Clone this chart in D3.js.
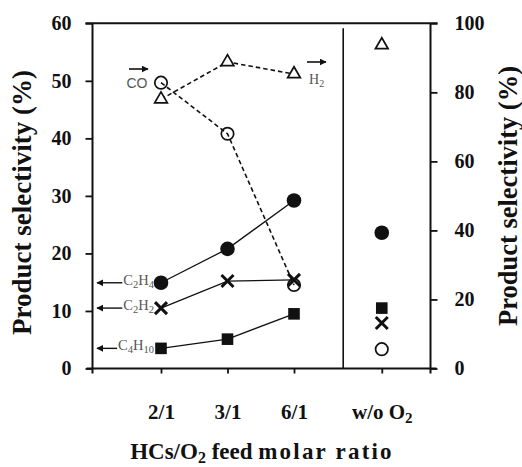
<!DOCTYPE html>
<html>
<head>
<meta charset="utf-8">
<script src="https://cdn.jsdelivr.net/npm/d3@7"></script>
<style>
  html, body { margin: 0; padding: 0; background: #ffffff; }
  svg { display: block; }
  text { font-family: "Times New Roman", "Liberation Serif", Tinos, Times, serif; }
</style>
</head>
<body>
<svg id="chart" width="522" height="467"></svg>
<script>
// Feed ratios (the last one is the run without oxygen)
const categories = ["2/1", "3/1", "6/1", "w/o O2"];

// Hydrocarbon selectivities, left axis (%)
const c2h4 = [14.9, 20.8, 29.2, 23.6];
const c2h2 = [10.5, 15.2, 15.4, 7.9];
const c4h10 = [3.5, 5.1, 9.5, 10.5];

// CO and H2 selectivities, right axis (%)
const co = [82.8, 68.0, 24.2, 5.6];
const h2 = [78.0, 88.8, 85.3, 93.7];

const leftTicks = [0, 10, 20, 30, 40, 50, 60];
const rightTicks = [0, 20, 40, 60, 80, 100];

const serif = "'Times New Roman', 'Liberation Serif', Tinos, Times, serif";
const svg = d3.select("#chart");
const ink = "#111";
const grey = "#555";

// Horizontal slot of each feed ratio; the oxygen-free run sits in its own panel
const slots = [1, 2, 3, 4.32];
const panelSplit = 3.74;

const x = d3.scaleLinear().domain([1, 3]).range([161, 294]);
const yL = d3.scaleLinear().domain([0, 60]).range([368.5, 23.3]);
const yR = d3.scaleLinear().domain([0, 100]).range([368.5, 23.3]);

const xLeft = 92.5, xRight = 430.5;
const yTop = yL(60), yBottom = yL(0);

// Frame
const frame = svg.append("g").attr("stroke", ink).attr("stroke-width", 2).attr("fill", "none");
frame.append("line").attr("x1", xLeft).attr("x2", xLeft).attr("y1", yTop).attr("y2", yBottom + 5);
frame.append("line").attr("x1", xRight).attr("x2", xRight).attr("y1", yTop).attr("y2", yBottom + 5);
frame.append("line").attr("x1", xLeft - 7).attr("x2", xRight + 7).attr("y1", yTop).attr("y2", yTop);
frame.append("line").attr("x1", xLeft - 6).attr("x2", xRight + 6).attr("y1", yBottom).attr("y2", yBottom);
frame.append("line").attr("x1", x(panelSplit)).attr("x2", x(panelSplit))
  .attr("y1", yTop + 5).attr("y2", yBottom).attr("stroke-width", 1.6);

// Left axis
const axL = svg.append("g").attr("transform", `translate(${xLeft},0)`)
  .call(d3.axisLeft(yL).tickValues(leftTicks).tickSize(7).tickPadding(14).tickFormat(d3.format("d")));
// Right axis
const axR = svg.append("g").attr("transform", `translate(${xRight},0)`)
  .call(d3.axisRight(yR).tickValues(rightTicks).tickSize(7).tickPadding(17).tickFormat(d3.format("d")));
// Bottom axis
const axB = svg.append("g").attr("transform", `translate(0,${yBottom})`)
  .call(d3.axisBottom(x).tickValues(slots).tickSize(5).tickPadding(31)
    .tickFormat((d, i) => categories[i]));

[axL, axR, axB].forEach(g => {
  g.attr("font-family", serif);
  g.select(".domain").remove();
  g.selectAll(".tick line").attr("stroke", ink).attr("stroke-width", 1.8);
  g.selectAll(".tick text")
    .attr("fill", ink)
    .style("font-family", serif)
    .style("font-weight", "bold")
    .style("font-size", "20px");
});
axB.selectAll(".tick text").style("font-size", "21px");

// Subscript digits in the ratio labels
axB.selectAll(".tick text").each(function (d, i) {
  const label = categories[i];
  const t = d3.select(this).text(null);
  const m = label.match(/^(.*?)(\d)$/);
  if (label.startsWith("w/o") && m) {
    t.append("tspan").text(m[1]);
    t.append("tspan").text(m[2]).attr("dy", 4).style("font-size", "15px");
  } else {
    t.text(label);
  }
});

// Axis titles
svg.append("text")
  .attr("transform", "translate(31,202.5) rotate(-90)")
  .attr("text-anchor", "middle").attr("fill", ink)
  .style("font-family", serif).style("font-weight", "bold").style("font-size", "27px")
  .text("Product selectivity (%)");
svg.append("text")
  .attr("transform", "translate(517,196) rotate(-90)")
  .attr("text-anchor", "middle").attr("fill", ink)
  .style("font-family", serif).style("font-weight", "bold").style("font-size", "26.5px")
  .text("Product selectivity (%)");

const xt = svg.append("text")
  .attr("x", 262).attr("y", 459).attr("text-anchor", "middle").attr("fill", ink)
  .style("font-family", serif).style("font-weight", "bold").style("font-size", "23px");
xt.append("tspan").text("HCs/O");
xt.append("tspan").text("2").attr("dy", 4).style("font-size", "16px");
xt.append("tspan").text(" feed ").attr("dy", -4);
xt.append("tspan").text("molar ratio").style("letter-spacing", "2.2px");

// Connecting lines for runs with oxygen
const fed = [0, 1, 2];
function connect(values, y, dashed) {
  const line = d3.line().x(i => x(slots[i])).y(i => y(values[i]));
  svg.append("path").datum(fed).attr("d", line)
    .attr("fill", "none").attr("stroke", ink)
    .attr("stroke-width", dashed ? 1.6 : 1.3)
    .attr("stroke-dasharray", dashed ? "4.5,3" : null);
}
connect(co, yR, true);
connect(h2, yR, true);
connect(c2h4, yL, false);
connect(c2h2, yL, false);
connect(c4h10, yL, false);

const idx = [0, 1, 2, 3];

// H2: open triangles
svg.append("g").selectAll("path").data(idx).join("path")
  .attr("transform", i => `translate(${x(slots[i])},${yR(h2[i])})`)
  .attr("d", d3.symbol(d3.symbolTriangle, 70))
  .attr("fill", "#fff").attr("stroke", ink).attr("stroke-width", 1.7);

// CO: open circles
svg.append("g").selectAll("circle").data(idx).join("circle")
  .attr("cx", i => x(slots[i])).attr("cy", i => yR(co[i])).attr("r", 6.2)
  .attr("fill", "none").attr("stroke", ink).attr("stroke-width", 1.7);

// C4H10: filled squares
svg.append("g").selectAll("rect").data(idx).join("rect")
  .attr("x", i => x(slots[i]) - 5.8).attr("y", i => yL(c4h10[i]) - 5.8)
  .attr("width", 11.6).attr("height", 11.6).attr("fill", ink);

// C2H2: crosses
svg.append("g").selectAll("path").data(idx).join("path")
  .attr("d", i => {
    const cx = x(slots[i]), cy = yL(c2h2[i]), s = 6;
    return `M${cx - s},${cy - s}L${cx + s},${cy + s}M${cx - s},${cy + s}L${cx + s},${cy - s}`;
  })
  .attr("stroke", ink).attr("stroke-width", 3).attr("fill", "none");

// C2H4: filled circles
svg.append("g").selectAll("circle").data(idx).join("circle")
  .attr("cx", i => x(slots[i])).attr("cy", i => yL(c2h4[i])).attr("r", 7.3)
  .attr("fill", ink);

// Series labels with arrows
const defs = svg.append("defs");
defs.append("marker").attr("id", "head").attr("viewBox", "0 0 10 10")
  .attr("refX", 9).attr("refY", 5).attr("markerWidth", 7).attr("markerHeight", 7)
  .attr("markerUnits", "userSpaceOnUse").attr("orient", "auto")
  .append("path").attr("d", "M0,0L10,5L0,10Z").attr("fill", ink);

function formula(g, parts, xEnd, yMid) {
  const t = g.append("text").attr("x", xEnd).attr("y", yMid + 5)
    .attr("text-anchor", "end").attr("fill", grey)
    .style("font-family", serif).style("font-size", "14.5px");
  parts.forEach(p => {
    if (/^\d+$/.test(p)) t.append("tspan").text(p).attr("dy", 3).style("font-size", "10.5px");
    else t.append("tspan").text(p).attr("dy", t.selectAll("tspan").size() ? -3 : 0);
  });
  return t;
}

const hcLabels = [
  { parts: ["C", "2", "H", "4"], values: c2h4 },
  { parts: ["C", "2", "H", "2"], values: c2h2 },
  { parts: ["C", "4", "H", "10"], values: c4h10 }
];
const lab = svg.append("g");
hcLabels.forEach(l => {
  const ym = yL(l.values[0]);
  const t = formula(lab, l.parts, 154, ym);
  const bb = t.node().getBBox();
  lab.append("line").attr("x1", bb.x - 1).attr("x2", 97).attr("y1", ym).attr("y2", ym)
    .attr("stroke", ink).attr("stroke-width", 1.4).attr("marker-end", "url(#head)");
});

// CO label
lab.append("text").attr("x", 137).attr("y", yR(co[0]) + 5.5).attr("text-anchor", "middle")
  .attr("fill", grey).style("font-family", "'Liberation Sans', Arimo, sans-serif").style("font-size", "14px")
  .text("CO");
lab.append("line").attr("x1", 129).attr("x2", 148).attr("y1", 69).attr("y2", 69)
  .attr("stroke", ink).attr("stroke-width", 1.6).attr("marker-end", "url(#head)");

// H2 label
const h2t = lab.append("text").attr("x", 309).attr("y", yR(h2[2]) + 10)
  .attr("fill", grey).style("font-family", serif).style("font-size", "14px");
h2t.append("tspan").text("H");
h2t.append("tspan").text("2").attr("dy", 3).style("font-size", "10px");
lab.append("line").attr("x1", 307).attr("x2", 326).attr("y1", 62).attr("y2", 62)
  .attr("stroke", ink).attr("stroke-width", 1.6).attr("marker-end", "url(#head)");
</script>
</body>
</html>
